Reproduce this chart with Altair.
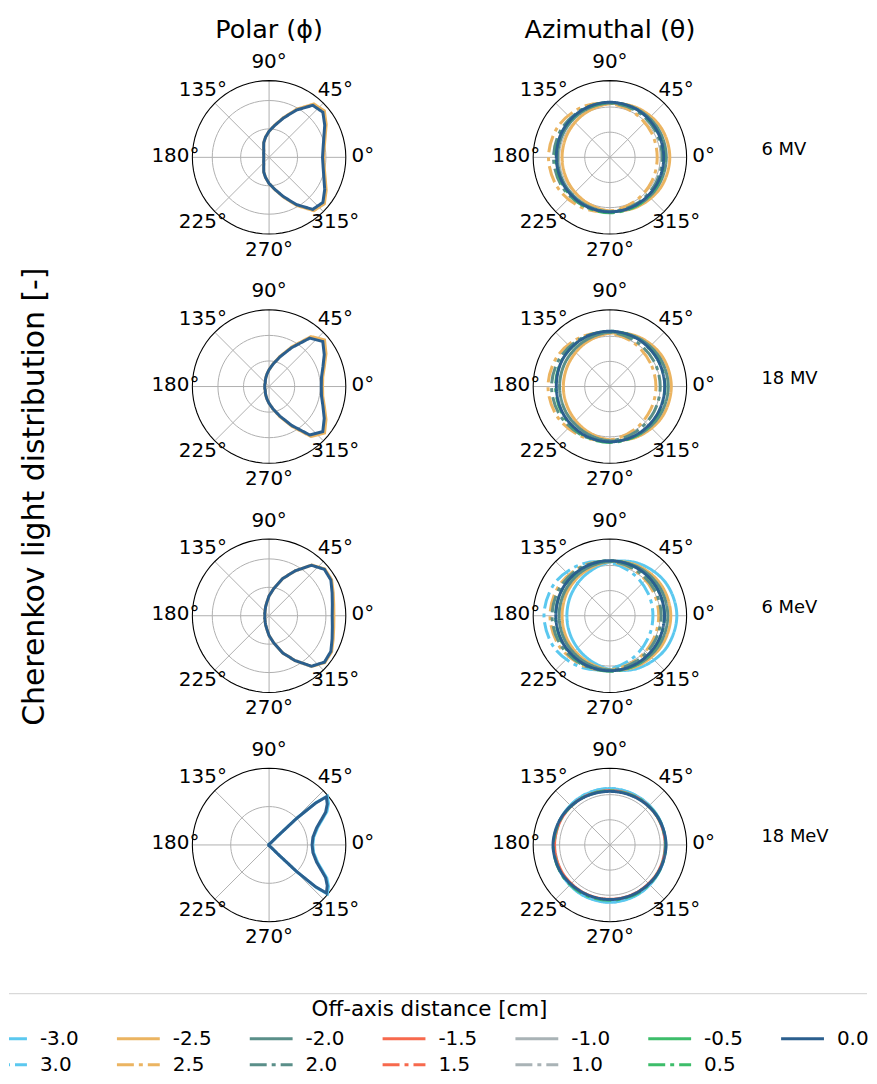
import altair as alt
import pandas as pd

FONT = "DejaVu Sans"

# ---- series (plot order: 0.0 drawn last) ----
SERIES = ["-3.0", "3.0", "-2.5", "2.5", "-2.0", "2.0", "-1.5", "1.5",
          "-1.0", "1.0", "-0.5", "0.5", "0.0"]
SERIES_COLORS = ["#5bc8ef", "#5bc8ef", "#ebb461", "#ebb461", "#5a8f89", "#5a8f89",
                 "#f7694d", "#f7694d", "#a9b3b6", "#a9b3b6", "#3dbd6a", "#3dbd6a", "#2b5f8e"]
SOLID = [1, 0]
DASHDOT = [17, 5, 4, 5]
SERIES_DASHES = [SOLID, DASHDOT, SOLID, DASHDOT, SOLID, DASHDOT, SOLID, DASHDOT,
                 SOLID, DASHDOT, SOLID, DASHDOT, SOLID]

ROW_NAMES = ["6 MV", "18 MV", "6 MeV", "18 MeV"]
COL_TITLES = ["Polar (ϕ)", "Azimuthal (θ)"]
THETA_TICKS = [0, 45, 90, 135, 180, 225, 270, 315]
THETA_LABELS = ["0°", "45°", "90°", "135°", "180°", "225°", "270°", "315°"]

# ---- polar angle (phi) distributions ----
ANG10 = list(range(0, 360, 10))
P_6MV_00 = [1.88, 1.93, 2.05, 2.26, 2.47, 2.39, 1.92, 1.47, 1.14, 0.92, 0.72, 0.55, 0.38, 0.29, 0.25, 0.22, 0.20, 0.19,
            0.19, 0.19, 0.20, 0.22, 0.25, 0.29, 0.38, 0.55, 0.72, 0.92, 1.14, 1.47, 1.92, 2.39, 2.47, 2.26, 2.05, 1.93]
P_6MV_M25 = [1.92, 1.97, 2.10, 2.32, 2.54, 2.45, 1.96, 1.49, 1.15, 0.92, 0.72, 0.55, 0.38, 0.29, 0.25, 0.22, 0.20, 0.19,
             0.19, 0.19, 0.20, 0.22, 0.25, 0.29, 0.38, 0.55, 0.72, 0.92, 1.15, 1.49, 1.96, 2.45, 2.54, 2.32, 2.10, 1.97]
P_18MV_00 = [2.04, 2.08, 2.24, 2.49, 2.74, 2.47, 1.75, 1.23, 0.89, 0.66, 0.49, 0.37, 0.29, 0.23, 0.20, 0.19, 0.18, 0.17,
             0.17, 0.17, 0.18, 0.19, 0.20, 0.23, 0.29, 0.37, 0.49, 0.66, 0.89, 1.23, 1.75, 2.47, 2.74, 2.49, 2.24, 2.08]
P_18MV_M25 = [2.09, 2.13, 2.30, 2.57, 2.83, 2.55, 1.80, 1.26, 0.90, 0.66, 0.49, 0.37, 0.29, 0.23, 0.20, 0.19, 0.18, 0.17,
              0.17, 0.17, 0.18, 0.19, 0.20, 0.23, 0.29, 0.37, 0.49, 0.66, 0.90, 1.26, 1.80, 2.55, 2.83, 2.57, 2.30, 2.13]
P_6MEV_00 = [2.22, 2.26, 2.36, 2.51, 2.54, 2.32, 1.82, 1.39, 0.98, 0.70, 0.47, 0.35, 0.27, 0.22, 0.19, 0.18, 0.16, 0.15,
             0.15, 0.15, 0.16, 0.18, 0.19, 0.22, 0.27, 0.35, 0.47, 0.70, 0.98, 1.39, 1.82, 2.32, 2.54, 2.51, 2.36, 2.26]
P_6MEV_M25 = [2.28, 2.31, 2.40, 2.54, 2.56, 2.33, 1.82, 1.39, 0.98, 0.70, 0.47, 0.35, 0.27, 0.22, 0.19, 0.18, 0.16, 0.15,
              0.15, 0.15, 0.16, 0.18, 0.19, 0.22, 0.27, 0.35, 0.47, 0.70, 0.98, 1.39, 1.82, 2.33, 2.56, 2.54, 2.40, 2.31]
ANG_P18MEV = [0, 10, 20, 30, 35, 40, 42, 44, 46, 50, 60, 90, 120, 150, 180,
              210, 240, 270, 300, 310, 314, 316, 318, 320, 325, 330, 340, 350]
P_18MEV_00 = [1.12, 1.16, 1.32, 1.70, 1.85, 1.95, 1.62, 0.99, 0.31, 0.08, 0.04, 0.02, 0.01, 0.01, 0.01,
              0.01, 0.01, 0.02, 0.04, 0.08, 0.31, 0.99, 1.62, 1.95, 1.85, 1.70, 1.32, 1.16]
P_18MEV_M30 = [1.14, 1.18, 1.35, 1.74, 1.89, 1.98, 1.66, 1.02, 0.32, 0.08, 0.04, 0.02, 0.01, 0.01, 0.01,
               0.01, 0.01, 0.02, 0.04, 0.08, 0.32, 1.02, 1.66, 1.98, 1.89, 1.74, 1.35, 1.18]

# ---- azimuthal angle (theta) distributions ----
ANG30 = list(range(0, 360, 30))
A_6MV_M25 = [2.38, 2.35, 2.25, 2.13, 2.01, 1.93, 1.90, 1.93, 2.01, 2.13, 2.25, 2.35]
A_6MV_P25 = [1.88, 1.92, 2.01, 2.14, 2.29, 2.40, 2.44, 2.40, 2.29, 2.14, 2.01, 1.92]
A_6MV_M20 = [2.24, 2.23, 2.20, 2.16, 2.12, 2.09, 2.08, 2.09, 2.12, 2.16, 2.20, 2.23]
A_6MV_P20 = [2.08, 2.09, 2.12, 2.16, 2.20, 2.23, 2.24, 2.23, 2.20, 2.16, 2.12, 2.09]
A_6MV_P05 = [2.15, 2.15, 2.17, 2.18, 2.17, 2.16, 2.15, 2.17, 2.19, 2.20, 2.20, 2.18]
A_6MV_00 = [2.14, 2.15, 2.18, 2.19, 2.18, 2.16, 2.13, 2.14, 2.16, 2.17, 2.16, 2.15]

A_18MV_M25 = [2.44, 2.40, 2.28, 2.12, 1.98, 1.88, 1.85, 1.88, 1.98, 2.12, 2.28, 2.40]
A_18MV_P25 = [1.83, 1.86, 1.97, 2.12, 2.28, 2.41, 2.46, 2.41, 2.28, 2.12, 1.97, 1.86]
A_18MV_M20 = [2.32, 2.29, 2.23, 2.16, 2.07, 2.02, 2.00, 2.02, 2.07, 2.16, 2.23, 2.29]
A_18MV_P20 = [2.00, 2.02, 2.07, 2.16, 2.23, 2.29, 2.32, 2.29, 2.23, 2.16, 2.07, 2.02]
A_18MV_P05 = [2.19, 2.19, 2.19, 2.20, 2.19, 2.18, 2.16, 2.18, 2.21, 2.22, 2.22, 2.20]
A_18MV_00 = [2.18, 2.18, 2.19, 2.20, 2.19, 2.17, 2.13, 2.15, 2.18, 2.20, 2.19, 2.18]

A_6MEV_M30 = [2.66, 2.58, 2.38, 2.13, 1.90, 1.76, 1.71, 1.76, 1.90, 2.13, 2.38, 2.58]
A_6MEV_P30 = [1.71, 1.76, 1.90, 2.11, 2.35, 2.55, 2.62, 2.55, 2.35, 2.11, 1.90, 1.76]
A_6MEV_M25 = [2.42, 2.38, 2.28, 2.15, 2.02, 1.94, 1.90, 1.94, 2.02, 2.15, 2.28, 2.38]
A_6MEV_P25 = [1.94, 1.97, 2.05, 2.15, 2.26, 2.35, 2.38, 2.35, 2.26, 2.15, 2.05, 1.97]
A_6MEV_M20 = [2.30, 2.28, 2.23, 2.16, 2.09, 2.04, 2.02, 2.04, 2.09, 2.16, 2.23, 2.28]
A_6MEV_P20 = [2.04, 2.05, 2.09, 2.16, 2.23, 2.28, 2.30, 2.28, 2.23, 2.16, 2.09, 2.05]
A_6MEV_P05 = [2.17, 2.17, 2.18, 2.19, 2.18, 2.17, 2.16, 2.18, 2.20, 2.21, 2.21, 2.19]
A_6MEV_00 = [2.17, 2.17, 2.18, 2.19, 2.18, 2.17, 2.15, 2.16, 2.18, 2.19, 2.18, 2.17]

A_18MEV_M30 = [2.21, 2.22, 2.22, 2.24, 2.23, 2.22, 2.22, 2.24, 2.27, 2.28, 2.26, 2.23]
A_18MEV_P30 = [2.20, 2.21, 2.22, 2.25, 2.24, 2.21, 2.20, 2.22, 2.25, 2.27, 2.25, 2.22]
A_18MEV_M15 = [2.20, 2.19, 2.17, 2.16, 2.17, 2.19, 2.20, 2.19, 2.17, 2.16, 2.17, 2.19]
A_18MEV_P05 = [2.22, 2.20, 2.17, 2.15, 2.17, 2.21, 2.25, 2.25, 2.22, 2.20, 2.21, 2.22]
A_18MEV_00 = [2.23, 2.20, 2.15, 2.13, 2.16, 2.22, 2.26, 2.23, 2.18, 2.17, 2.18, 2.21]

POLAR_PANELS = [
    dict(angles=ANG10, rmax=2.7, ticks=[1, 2], curves={"-2.5": P_6MV_M25, "0.0": P_6MV_00}),
    dict(angles=ANG10, rmax=3.0, ticks=[1, 2], curves={"-2.5": P_18MV_M25, "0.0": P_18MV_00}),
    dict(angles=ANG10, rmax=2.7, ticks=[1, 2], curves={"-2.5": P_6MEV_M25, "0.0": P_6MEV_00}),
    dict(angles=ANG_P18MEV, rmax=2.0, ticks=[1], curves={"-3.0": P_18MEV_M30, "0.0": P_18MEV_00}),
]
AZIM_PANELS = [
    dict(angles=ANG30, rmax=3.05, ticks=[1, 2],
         curves={"-2.5": A_6MV_M25, "2.5": A_6MV_P25, "-2.0": A_6MV_M20, "2.0": A_6MV_P20,
                 "0.5": A_6MV_P05, "0.0": A_6MV_00}),
    dict(angles=ANG30, rmax=3.05, ticks=[1, 2],
         curves={"-2.5": A_18MV_M25, "2.5": A_18MV_P25, "-2.0": A_18MV_M20, "2.0": A_18MV_P20,
                 "0.5": A_18MV_P05, "0.0": A_18MV_00}),
    dict(angles=ANG30, rmax=3.05, ticks=[1, 2],
         curves={"-3.0": A_6MEV_M30, "3.0": A_6MEV_P30, "-2.5": A_6MEV_M25, "2.5": A_6MEV_P25,
                 "-2.0": A_6MEV_M20, "2.0": A_6MEV_P20, "0.5": A_6MEV_P05, "0.0": A_6MEV_00}),
    dict(angles=ANG30, rmax=3.05, ticks=[1, 2],
         curves={"-3.0": A_18MEV_M30, "3.0": A_18MEV_P30, "-1.5": A_18MEV_M15,
                 "0.5": A_18MEV_P05, "0.0": A_18MEV_00}),
]

# ---- layout constants (pixels) ----
PW, PH = 240, 216          # panel plot area
R_PX = 77.0                # outer circle radius
LABEL_PX = 94.0            # theta tick label radius
ROW_GAP, COL_GAP = 14, 102
HT = 25.5                  # height of the column-title cells

color_scale = alt.Scale(domain=SERIES, range=SERIES_COLORS)
dash_scale = alt.Scale(domain=SERIES, range=SERIES_DASHES)
XY = {"x": "datum.r*cos(datum.ang*PI/180)", "y": "datum.r*sin(datum.ang*PI/180)"}


def polar_panel(p, interp, row_label=None):
    rmax = p["rmax"]
    k = R_PX / rmax
    xsc = alt.Scale(domain=[-(PW / 2) / k, (PW / 2) / k], nice=False, zero=False)
    ysc = alt.Scale(domain=[-(PH / 2) / k, (PH / 2) / k], nice=False, zero=False)
    X = lambda f: alt.X(f, scale=xsc, axis=None)
    Y = lambda f: alt.Y(f, scale=ysc, axis=None)

    grid_df = pd.DataFrame([{"t": t, "ang": a, "r": t} for t in p["ticks"] for a in range(0, 361, 5)])
    outer_df = pd.DataFrame([{"ang": a, "r": rmax} for a in range(0, 361, 5)])
    spoke_df = pd.DataFrame({"ang": THETA_TICKS, "r": [rmax] * len(THETA_TICKS)})
    lab_df = pd.DataFrame({"ang": THETA_TICKS, "r": [rmax * LABEL_PX / R_PX] * len(THETA_TICKS),
                           "lab": THETA_LABELS})
    rows = []
    for s in SERIES:
        if s in p["curves"]:
            for i, (a, r) in enumerate(zip(p["angles"], p["curves"][s])):
                rows.append({"series": s, "ang": a, "r": r, "i": i})
    cdf = pd.DataFrame(rows)

    grid = alt.Chart(grid_df).mark_line(color="#b0b0b0", strokeWidth=1).transform_calculate(**XY).encode(
        x=X("x:Q"), y=Y("y:Q"), detail="t:N", order="ang:Q")
    spokes = alt.Chart(spoke_df).mark_rule(color="#b0b0b0", strokeWidth=1).transform_calculate(
        x0="0", y0="0", **XY).encode(x=X("x0:Q"), y=Y("y0:Q"), x2="x:Q", y2="y:Q")
    outer = alt.Chart(outer_df).mark_line(color="black", strokeWidth=1.1).transform_calculate(**XY).encode(
        x=X("x:Q"), y=Y("y:Q"), order="ang:Q")
    curves = alt.Chart(cdf).mark_line(strokeWidth=3, interpolate=interp).transform_calculate(**XY).encode(
        x=X("x:Q"), y=Y("y:Q"),
        color=alt.Color("series:N", scale=color_scale, legend=None),
        strokeDash=alt.StrokeDash("series:N", scale=dash_scale, legend=None),
        order="i:Q")
    labels = alt.Chart(lab_df).mark_text(fontSize=20, font=FONT, align="center", baseline="middle",
                                         dy=-1.5, color="black").transform_calculate(**XY).encode(
        x=X("x:Q"), y=Y("y:Q"), text="lab:N")
    layers = [grid, spokes, outer, curves, labels]
    if row_label is not None:
        rl = alt.Chart(pd.DataFrame({"lab": [row_label]})).mark_text(
            fontSize=18, font=FONT, align="left", baseline="middle", color="black").encode(
            x=alt.value(PW / 2 + 152), y=alt.value(PH / 2 - 7.5), text="lab:N")
        layers.append(rl)
    return alt.layer(*layers).properties(width=PW, height=PH)


def title_cell(t):
    return alt.Chart(pd.DataFrame({"t": [t]})).mark_text(
        fontSize=25.5, font=FONT, align="center", baseline="middle", color="black").encode(
        x=alt.value(PW / 2), y=alt.value(20), text="t:N").properties(width=PW, height=HT)


cells = [title_cell(COL_TITLES[0]), title_cell(COL_TITLES[1])]
for k in range(4):
    cells.append(polar_panel(POLAR_PANELS[k], "linear-closed"))
    cells.append(polar_panel(AZIM_PANELS[k], "cardinal-closed", row_label=ROW_NAMES[k]))
grid_block = alt.concat(*cells, columns=2, spacing={"row": ROW_GAP, "column": COL_GAP},
                        bounds="flush", align="each")

GRID_H = HT + ROW_GAP + 4 * PH + 3 * ROW_GAP
ylab = alt.Chart(pd.DataFrame({"t": ["Cherenkov light distribution [-]"]})).mark_text(
    fontSize=30, font=FONT, angle=270, align="center", baseline="middle", color="black").encode(
    x=alt.value(26), y=alt.value(488.5), text="t:N").properties(width=52, height=GRID_H)

top = alt.hconcat(ylab, grid_block, spacing=89)

# ---- legend (7 columns x 2 rows, column-major like matplotlib) ----
LEG_COL = [0, 0, 1, 1, 2, 2, 3, 3, 4, 4, 5, 5, 6]
LEG_ROW = [0, 1, 0, 1, 0, 1, 0, 1, 0, 1, 0, 1, 0]
leg_df = pd.DataFrame({"series": SERIES, "c": LEG_COL, "row": LEG_ROW})
LW, LH = 861, 82
COLW, ROWH, ROW0 = 133.3, 26.0, 46.0
lx = alt.Scale(domain=[25 / COLW, 25 / COLW + LW / COLW], nice=False, zero=False)
ly = alt.Scale(domain=[-ROW0 / ROWH, (LH - ROW0) / ROWH], nice=False, zero=False, reverse=True)
leg_lines = alt.Chart(leg_df).mark_rule(strokeWidth=3, clip=True).transform_calculate(
    c2=f"datum.c + {43 / COLW}").encode(
    x=alt.X("c:Q", scale=lx, axis=None), x2="c2:Q", y=alt.Y("row:Q", scale=ly, axis=None),
    color=alt.Color("series:N", scale=color_scale, legend=None),
    strokeDash=alt.StrokeDash("series:N", scale=dash_scale, legend=None))
leg_text = alt.Chart(leg_df).mark_text(fontSize=20, font=FONT, align="left", baseline="middle",
                                       color="black").transform_calculate(cl=f"datum.c + {56 / COLW}").encode(
    x=alt.X("cl:Q", scale=lx, axis=None), y=alt.Y("row:Q", scale=ly, axis=None), text="series:N")
leg_title = alt.Chart(pd.DataFrame({"t": ["Off-axis distance [cm]"]})).mark_text(
    fontSize=21.5, font=FONT, align="center", baseline="middle", color="black").encode(
    x=alt.value(422), y=alt.value(17), text="t:N")
leg_frame = alt.Chart(pd.DataFrame({"t": [0]})).mark_rule(color="#d9d9d9", strokeWidth=1.2).encode(
    x=alt.value(0), x2=alt.value(LW), y=alt.value(0.6))
legend = alt.layer(leg_frame, leg_lines, leg_text, leg_title).properties(width=LW, height=LH)

chart = alt.vconcat(top, legend, spacing=40.5).properties(
    padding={"left": 0, "top": 0, "right": 0, "bottom": 0}
).configure_view(stroke=None, fill="white").configure_text(font=FONT)

chart.save("out.html", embed_options={"renderer": "svg", "actions": False})
